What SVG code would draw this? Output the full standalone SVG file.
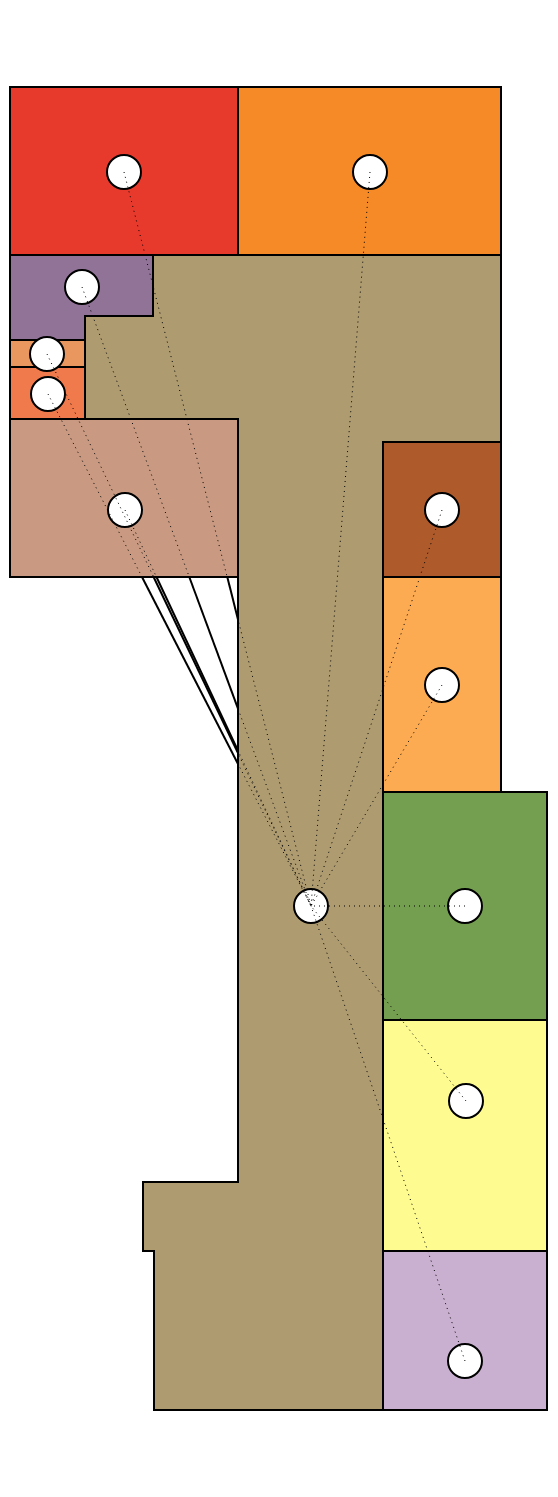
<svg xmlns="http://www.w3.org/2000/svg" width="558" height="1497" viewBox="0 0 558 1497">
<style>
.r{stroke:#000;stroke-width:2;stroke-linejoin:miter}
.n{fill:#fff;stroke:#000;stroke-width:2}
.d{stroke:#000;stroke-width:1;stroke-dasharray:1 4;fill:none}
.s{stroke:#000;stroke-width:2;fill:none}
</style>
<rect width="558" height="1497" fill="#fff"/>
<g id="regions">
<path id="tan" class="r" fill="#af9b70" d="M153,255 L501,255 L501,442 L383,442 L383,1410 L154,1410 L154,1251 L143,1251 L143,1182 L238,1182 L238,577 L238,419 L85,419 L85,316 L153,316 Z"/>
<rect id="red" class="r" fill="#e8392d" x="10" y="87" width="228" height="168"/>
<rect id="orange" class="r" fill="#f68a26" x="238" y="87" width="263" height="168"/>
<path id="purple" class="r" fill="#927398" d="M10,255 L153,255 L153,316 L85,316 L85,340 L10,340 Z"/>
<rect id="sandy" class="r" fill="#e9975e" x="10" y="340" width="75" height="27"/>
<rect id="coral" class="r" fill="#f17a4d" x="10" y="367" width="75" height="52"/>
<rect id="pink" class="r" fill="#c99a81" x="10" y="419" width="228" height="158"/>
<rect id="brown" class="r" fill="#af5a2b" x="383" y="442" width="118" height="135"/>
<rect id="lightorange" class="r" fill="#fdab52" x="383" y="577" width="118" height="215"/>
<rect id="green" class="r" fill="#749e50" x="383" y="792" width="164" height="228"/>
<rect id="yellow" class="r" fill="#fefc91" x="383" y="1020" width="164" height="231"/>
<rect id="lavender" class="r" fill="#cab0d0" x="383" y="1251" width="164" height="159"/>
</g>
<g id="n-red"><circle class="n" cx="124" cy="172" r="17"/></g>
<g id="n-orange"><circle class="n" cx="370" cy="172" r="17"/></g>
<g id="n-purple"><circle class="n" cx="82" cy="287" r="17"/></g>
<g id="n-sandy"><circle class="n" cx="47" cy="354" r="17"/></g>
<g id="n-coral"><circle class="n" cx="48" cy="394" r="17"/></g>
<g id="n-pink"><circle class="n" cx="125" cy="510" r="17"/></g>
<g id="n-brown"><circle class="n" cx="442" cy="510" r="17"/></g>
<g id="n-lightorange"><circle class="n" cx="442" cy="685" r="17"/></g>
<g id="n-green"><circle class="n" cx="465" cy="906" r="17"/></g>
<g id="n-yellow"><circle class="n" cx="466" cy="1101" r="17"/></g>
<g id="n-lavender"><circle class="n" cx="465" cy="1361" r="17"/></g>
<g id="n-center"><circle class="n" cx="311" cy="906" r="17"/></g>
<g id="connectors">
<line class="d" x1="124" y1="172" x2="311" y2="906"/>
<line class="d" x1="370" y1="172" x2="311" y2="906"/>
<line class="d" x1="82" y1="287" x2="311" y2="906"/>
<line class="d" x1="47" y1="354" x2="311" y2="906"/>
<line class="d" x1="48" y1="394" x2="311" y2="906"/>
<line class="d" x1="125" y1="510" x2="311" y2="906"/>
<line class="d" x1="442" y1="510" x2="311" y2="906"/>
<line class="d" x1="442" y1="685" x2="311" y2="906"/>
<line class="d" x1="465" y1="906" x2="311" y2="906"/>
<line class="d" x1="466" y1="1101" x2="311" y2="906"/>
<line class="d" x1="465" y1="1361" x2="311" y2="906"/>
<line class="s" x1="227.3" y1="577" x2="238" y2="619.5"/>
<line class="s" x1="189.3" y1="577" x2="238" y2="708.7"/>
<line class="s" x1="153.6" y1="577" x2="238" y2="753"/>
<line class="s" x1="156.5" y1="577" x2="238" y2="750.6"/>
<line class="s" x1="142" y1="577" x2="238" y2="764"/>
</g>
</svg>
